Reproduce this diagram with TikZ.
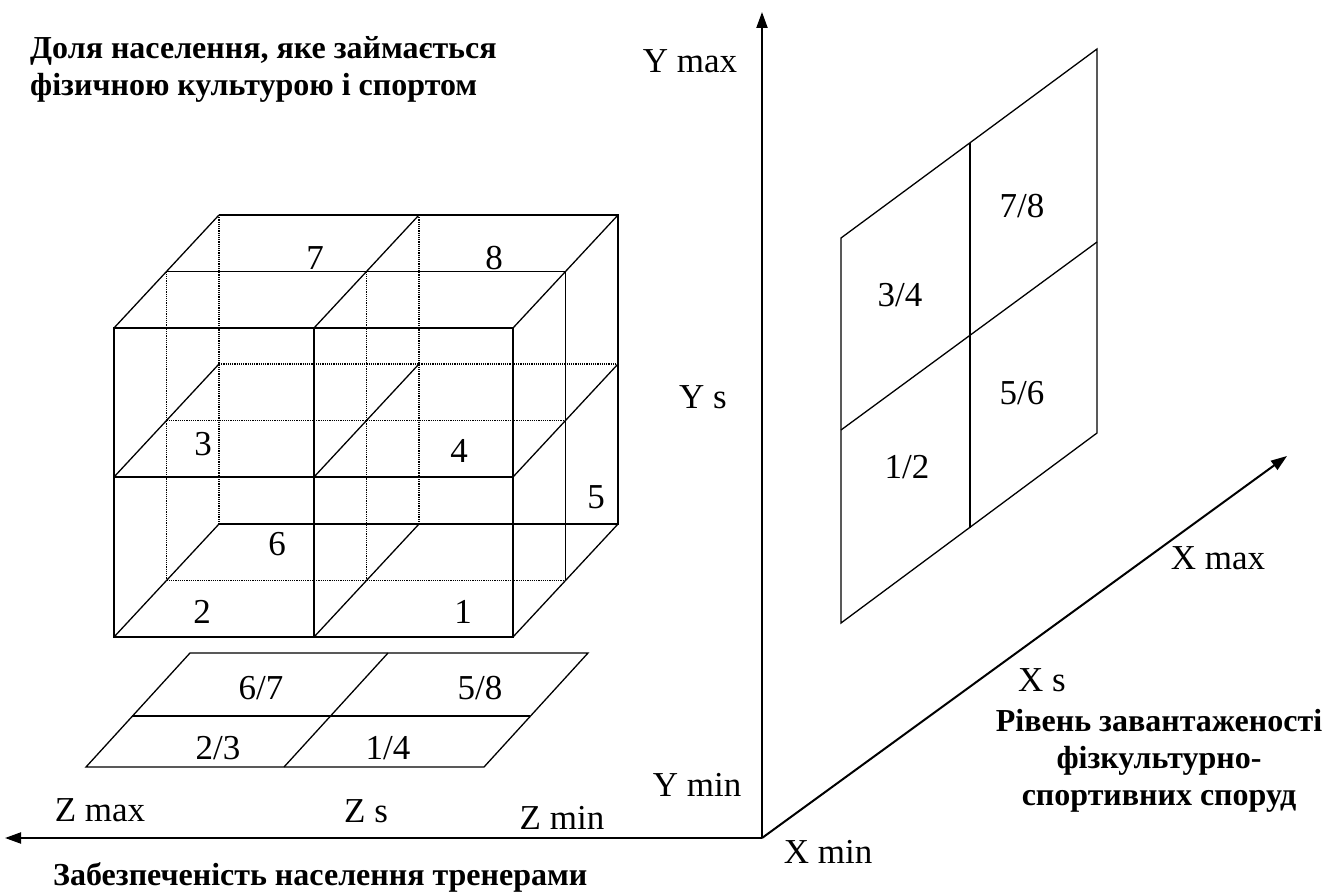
\documentclass[tikz,border=0pt]{standalone}
\usepackage{fontspec}
\setmainfont{Liberation Serif}
\usetikzlibrary{arrows.meta,positioning}

\begin{document}
\begin{tikzpicture}[x=1pt,y=-1pt,
  edge/.style={line width=1.3pt},
  hidden/.style={line width=1.2pt, densely dotted},
  axis/.style={line width=2pt, -{Triangle[length=16pt,width=11pt]}},
  lbl/.style={font=\fontsize{35}{40}\selectfont, inner sep=0pt},
  ttl/.style={font=\fontsize{32}{37}\selectfont\bfseries, inner sep=0pt},
]
\useasboundingbox (0,0) rectangle (1325,896);

% axes
\coordinate (O) at (762,838);
\coordinate (Ytip) at (762,12);
\coordinate (Ztip) at (5,838);
\coordinate (Xtip) at (1287,456);
\draw[axis] (O) -- (Ytip);
\draw[axis] (O) -- (Ztip);
\draw[axis] (O) -- (Xtip);

% cube: front layer
\draw[edge] (114,328) rectangle (513,637);
\draw[edge] (314,328) -- (314,637);
\draw[edge] (114,477) -- (513,477);
% cube: depth edges
\foreach \x in {114,314,513}
  \foreach \y in {328,477,637}
    \draw[edge] (\x,\y) -- ++(105,-113);
% cube: middle layer
\begin{scope}[shift={(52.5,-56.5)}]
  \draw[edge] (114,328) -- (513,328) -- (513,637);
  \draw[hidden] (114,477) -- (513,477);
  \draw[hidden] (114,637) -- (513,637);
  \draw[hidden] (114,328) -- (114,637);
  \draw[hidden] (314,328) -- (314,637);
\end{scope}
% cube: back layer
\begin{scope}[shift={(105,-113)}]
  \draw[edge] (114,328) -- (513,328) -- (513,637) -- (114,637);
  \draw[hidden] (114,477) -- (513,477);
  \draw[hidden] (114,328) -- (114,637);
  \draw[hidden] (314,328) -- (314,637);
\end{scope}

% projection on the Z-X plane
\draw[edge] (190,653) -- (588,653) -- (484,767) -- (86,767) -- cycle;
\draw[edge] (132,716) -- (530,716);
\draw[edge] (388,653) -- (284,767);

% projection on the X-Y plane
\draw[edge] (841,238) -- (1097,49) -- (1097,433) -- (841,623) -- cycle;
\draw[edge] (970,143) -- (970,528);
\draw[edge] (841,430) -- (1097,242);

% cube numbers
\node[lbl] (c1) at (463,612) {1};
\node[lbl] (c2) at (202,612) {2};
\node[lbl] (c3) at (203,444) {3};
\node[lbl] (c4) at (459,451) {4};
\node[lbl] (c5) at (596,497) {5};
\node[lbl] (c6) at (277,544) {6};
\node[lbl] (c7) at (315,258) {7};
\node[lbl] (c8) at (494,258) {8};

% projection cells
\node[lbl] (p67) at (261,688) {6/7};
\node[lbl] (p58) at (480,688) {5/8};
\node[lbl] (p23) at (218,748) {2/3};
\node[lbl] (p14) at (388,748) {1/4};
\node[lbl] (q78) at (1022,206) {7/8};
\node[lbl] (q34) at (900,295) {3/4};
\node[lbl] (q56) at (1022,393) {5/6};
\node[lbl] (q12) at (907,467) {1/2};

% axis marks
\node[lbl] (ymax) at (690,61) {Y max};
\node[lbl] (ys) at (703,397) {Y s};
\node[lbl] (ymin) at (697,785) {Y min};
\node[lbl] (xmin) at (828,852) {X min};
\node[lbl] (xs) at (1042,680) {X s};
\node[lbl] (xmax) at (1218,558) {X max};
\node[lbl] (zmax) at (100,810) {Z max};
\node[lbl] (zs) at (366,811) {Z s};
\node[lbl] (zmin) at (562,818) {Z min};

% axis titles
\node[ttl, anchor=north west, align=left] (ytitle) at (30,36)
  {Доля населення, яке займається\\фізичною культурою і спортом};
\node[ttl, anchor=west] (ztitle) at (53,877) {Забезпеченість населення тренерами};
\node[ttl, anchor=north, align=center] (xtitle) at (1159,709)
  {Рівень завантаженості\\фізкультурно-\\спортивних споруд};
\end{tikzpicture}
\end{document}
